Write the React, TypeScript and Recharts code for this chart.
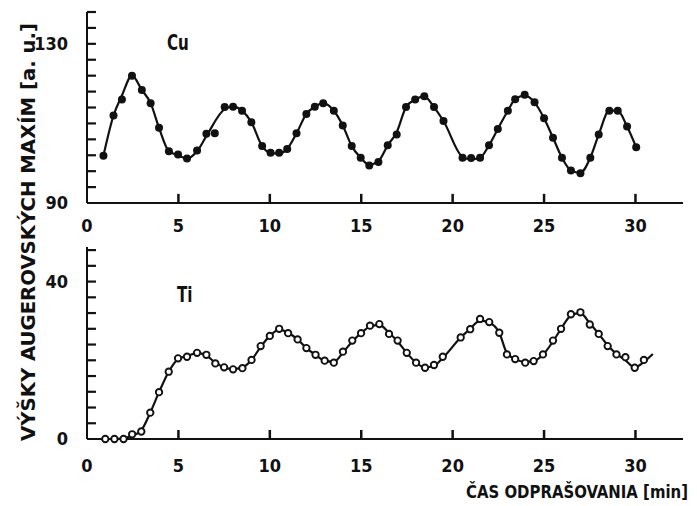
import { LineChart, Line, XAxis, YAxis, ReferenceLine } from 'recharts';

// Cu: measured points (t in min, value in a.u.)
const CU_T = [0.9, 1.45, 1.91, 2.46, 3.0, 3.48, 3.94, 4.48, 4.98, 5.47, 6.02, 6.53, 6.99, 7.53, 7.99, 8.48, 8.99, 9.58, 10.04, 10.51, 10.95, 11.46, 12.0, 12.46, 12.92, 13.5, 13.99, 14.48, 14.97, 15.44, 15.94, 16.45, 16.94, 17.45, 17.95, 18.45, 18.98, 19.5, 20.54, 21.01, 21.5, 21.99, 22.47, 23.02, 23.42, 23.94, 24.48, 25.0, 25.49, 25.98, 26.47, 26.99, 27.53, 27.99, 28.57, 29.03, 29.54, 30.04];
const CU_PTS = [101.9, 112.0, 116.0, 122.0, 118.4, 115.1, 108.9, 103.0, 102.2, 101.2, 103.2, 107.4, 107.5, 114.1, 114.2, 113.2, 110.3, 104.3, 102.6, 102.6, 103.6, 107.5, 112.4, 114.2, 115.1, 113.2, 109.5, 104.3, 101.4, 99.4, 100.3, 104.5, 107.2, 114.1, 116.0, 116.8, 114.1, 110.6, 101.4, 101.3, 101.4, 104.5, 108.6, 113.2, 116.1, 117.2, 115.3, 111.3, 106.4, 101.4, 98.2, 97.5, 101.4, 107.2, 113.2, 113.2, 109.2, 104.0];
// drawn fit curve (null where the curve leaves a point)
const CU_FIT = [101.9, 112.0, 117.0, 122.0, 118.4, 115.1, 108.9, 103.0, 102.0, 101.2, 103.0, 106.8, null, 113.6, 114.2, 113.2, 110.3, 104.3, 102.6, 102.4, 103.6, 107.5, 112.4, 114.2, 115.1, 113.2, 109.5, 104.3, 101.4, 99.6, 100.5, 104.5, 107.8, 114.1, 116.0, 116.8, 114.1, 110.6, 101.6, 101.0, 101.4, 104.5, 108.6, 113.2, 116.1, 117.0, 115.3, 111.3, 106.4, 101.4, 98.2, 97.6, 101.4, 107.2, 113.2, 113.2, 109.2, 104.0];

// Ti: measured points and fit curve
const TI_T = [1.0, 1.5, 2.0, 2.47, 2.97, 3.46, 3.94, 4.47, 4.98, 5.47, 6.02, 6.53, 7.02, 7.5, 7.99, 8.5, 9.0, 9.5, 10.0, 10.51, 11.0, 11.52, 12.0, 12.5, 13.0, 13.5, 14.0, 14.51, 14.99, 15.48, 15.99, 16.52, 16.99, 17.49, 18.0, 18.49, 18.98, 19.46, 20.44, 20.96, 21.5, 22.0, 22.55, 22.97, 23.42, 23.97, 24.43, 24.94, 25.49, 25.93, 26.47, 26.99, 27.5, 27.99, 28.48, 28.96, 29.45, 29.96, 30.46, 30.95];
const TI_PTS = [0, 0, 0, 1.2, 1.9, 6.7, 11.9, 17.1, 20.5, 20.9, 21.9, 21.4, 19.2, 18.2, 17.7, 18.0, 20.1, 23.6, 26.2, 28.0, 26.9, 25.3, 23.1, 21.4, 19.9, 19.4, 22.2, 25.0, 26.9, 28.8, 29.2, 26.7, 25.0, 21.9, 19.4, 18.1, 18.8, 20.9, 25.8, 27.9, 30.5, 29.7, 27.0, 21.5, 20.3, 19.4, 19.8, 21.5, 25.0, 28.0, 31.7, 32.2, 29.1, 26.7, 23.6, 21.5, 20.8, 18.1, 20.1, null];
const TI_FIT = [0, 0, 0.2, 0.8, 2.2, 6.7, 11.9, 17.1, 20.3, 21.1, 21.8, 21.2, 19.4, 18.2, 17.8, 18.2, 20.1, 23.4, 26.2, 27.8, 27.0, 25.3, 23.1, 21.4, 19.9, 19.6, 22.0, 24.8, 26.9, 28.6, 29.0, 27.0, 24.8, 21.9, 19.4, 18.2, 18.6, 20.6, 25.8, 28.0, 30.1, 29.6, 27.0, 21.8, 20.3, 19.6, 19.8, 21.4, 24.8, 28.0, 31.4, 32.0, 29.4, 26.7, 23.8, 21.6, 20.0, 18.2, 19.6, 21.6];

const X_TICKS = [0, 5, 10, 15, 20, 25, 30];
const CU_TICKS = [94, 98, 102, 106, 110, 114, 118, 122, 126, 130, 134, 138];
const CU_LABELS = [90, 130];
const TI_TICKS = [4, 8, 12, 16, 20, 24, 28, 32, 36, 40, 44, 48];
const TI_LABELS = [0, 40];

// both panels share one plot; each y-axis domain is stretched so its panel sits in its own band
const CU_DOMAIN = [30.7, 138];
const TI_DOMAIN = [0, 108.5];
const X_DOMAIN = [0, 32.6];

const INK = '#111';
const FONT = '"DejaVu Sans Condensed", "DejaVu Sans", sans-serif';
const TICK_FONT = { fill: INK, fontSize: 18, fontWeight: 'bold', fontFamily: FONT };

const cuData = CU_T.map((t, i) => ({ t, pt: CU_PTS[i], fit: CU_FIT[i] }));
const tiData = TI_T.map((t, i) => ({ t, pt: TI_PTS[i], fit: TI_FIT[i] }));

const Narrow = ({ x, y, anchor = 'start', size = 20, children }: any) => (
  <g transform={`translate(${x},${y}) scale(0.8,1)`}>
    <text textAnchor={anchor} fontSize={size} fontWeight="bold" fontFamily={FONT} fill={INK}>
      {children}
    </text>
  </g>
);

const XTick = (props: any) => {
  const { x, y, payload } = props;
  return (
    <g>
      {payload.value !== 0 && <line x1={x} x2={x} y1={y} y2={y - 9} stroke={INK} strokeWidth={2.5} />}
      <text x={x} y={y + 33} textAnchor="middle" {...TICK_FONT}>
        {payload.value}
      </text>
    </g>
  );
};

// inward y tick marks and the few labelled values of one panel
const yTicks = (axisId: string, ticks: number[], labels: number[]) => [
  ...ticks.map((v) => (
    <ReferenceLine
      key={axisId + 't' + v}
      yAxisId={axisId}
      segment={[{ x: 0, y: v }, { x: 0.49, y: v }]}
      stroke={INK}
      strokeWidth={2.2}
      ifOverflow="visible"
    />
  )),
  ...labels.map((v) => (
    <ReferenceLine
      key={axisId + 'l' + v}
      yAxisId={axisId}
      segment={[{ x: 0, y: v }, { x: 0, y: v }]}
      stroke="none"
      ifOverflow="visible"
      label={{ value: String(v), position: 'left', offset: 19, ...TICK_FONT }}
    />
  )),
];

const FilledDot = (props: any) => {
  const { cx, cy, payload } = props;
  if (payload.pt == null) return <g />;
  return <circle cx={cx} cy={cy} r={4} fill={INK} />;
};

const OpenDot = (props: any) => {
  const { cx, cy, payload } = props;
  if (payload.pt == null) return <g />;
  return <circle cx={cx} cy={cy} r={3.2} fill="#fff" stroke={INK} strokeWidth={1.9} />;
};

export default function App() {
  return (
    <div style={{ position: 'absolute', left: 0, top: 0, width: 697, height: 506, background: '#fff' }}>
      <svg width={697} height={506} style={{ position: 'absolute', left: 0, top: 0 }}>
        <text
          transform="translate(35, 232) rotate(-90)"
          textAnchor="middle"
          fontSize={20}
          fontWeight="bold"
          fontFamily={FONT}
          fill={INK}
          textLength={418}
          lengthAdjust="spacingAndGlyphs"
        >
          VÝŠKY AUGEROVSKÝCH MAXÍM [a. u.]
        </text>
        <Narrow x={167} y={50} size={21}>Cu</Narrow>
        <Narrow x={177} y={302} size={21}>Ti</Narrow>
        <text
          x={466}
          y={498}
          fontSize={17}
          fontWeight="bold"
          fontFamily={FONT}
          fill={INK}
          textLength={222}
          lengthAdjust="spacingAndGlyphs"
        >
          ČAS ODPRAŠOVANIA [min]
        </text>
      </svg>
      <div style={{ position: 'absolute', left: 0, top: 0 }}>
        <LineChart width={697} height={506} margin={{ top: 12, right: 14, bottom: 0, left: 87 }}>
          <XAxis
            type="number"
            dataKey="t"
            domain={X_DOMAIN}
            ticks={X_TICKS}
            interval={0}
            height={67}
            tickSize={0}
            tickMargin={0}
            tickLine={false}
            axisLine={{ stroke: INK, strokeWidth: 2 }}
            tick={XTick}
          />
          <YAxis yAxisId="cu" type="number" domain={CU_DOMAIN} hide />
          <YAxis yAxisId="ti" type="number" domain={TI_DOMAIN} hide />
          {/* axis lines of the two panels */}
          <ReferenceLine yAxisId="cu" segment={[{ x: 0, y: 90 }, { x: 0, y: 138 }]} stroke={INK} strokeWidth={2} ifOverflow="visible" />
          <ReferenceLine yAxisId="cu" y={90} stroke={INK} strokeWidth={2} ifOverflow="visible" />
          <ReferenceLine yAxisId="ti" segment={[{ x: 0, y: 0 }, { x: 0, y: 48.8 }]} stroke={INK} strokeWidth={2} ifOverflow="visible" />
          {yTicks('cu', CU_TICKS, CU_LABELS)}
          {yTicks('ti', TI_TICKS, TI_LABELS)}
          {/* x ticks and labels of the upper (Cu) panel */}
          {X_TICKS.map((v) => (
            <ReferenceLine
              key={'cx' + v}
              yAxisId="cu"
              segment={[{ x: v, y: 90 }, { x: v, y: v === 0 ? 90 : 92.3 }]}
              stroke={INK}
              strokeWidth={2.5}
              ifOverflow="visible"
              label={{ value: String(v), position: 'bottom', offset: 16, ...TICK_FONT }}
            />
          ))}
          <Line data={cuData} yAxisId="cu" type="monotone" dataKey="fit" stroke={INK} strokeWidth={2.2} dot={false} connectNulls isAnimationActive={false} />
          <Line data={cuData} yAxisId="cu" type="monotone" dataKey="pt" stroke="none" dot={<FilledDot />} activeDot={false} isAnimationActive={false} />
          <Line data={tiData} yAxisId="ti" type="monotone" dataKey="fit" stroke={INK} strokeWidth={2.2} dot={false} connectNulls isAnimationActive={false} />
          <Line data={tiData} yAxisId="ti" type="monotone" dataKey="pt" stroke="none" dot={<OpenDot />} activeDot={false} isAnimationActive={false} />
        </LineChart>
      </div>
    </div>
  );
}
